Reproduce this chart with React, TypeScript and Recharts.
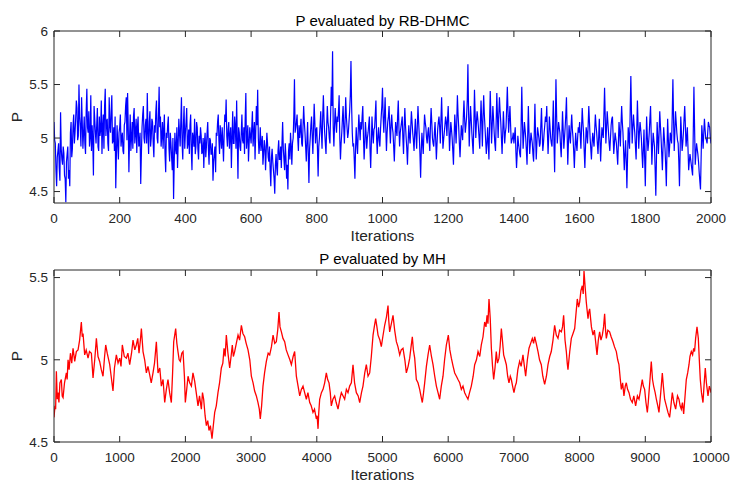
import React from "react"
import { LineChart, Line, XAxis, YAxis } from "recharts"

const WIDTH = 732
const HEIGHT = 482
const AXIS_COLOR = "#262626"
const FONT = '"Liberation Sans", Arial, Helvetica, sans-serif'

// P evaluated by RB-DHMC, read every 4 iterations from 0 to 2000
const RB_STEP = 4
const rbValues = [
  5.15, 4.95, 4.55, 4.88, 4.72, 5.24, 4.8, 4.92, 4.65, 4.4, 4.85, 4.62, 4.55, 5.15, 4.9, 5.22, 5.05, 5.35, 4.98, 5.5, 5.1, 5.38, 4.9, 5.2, 4.85,
  5.46, 5.05, 4.92, 5.4, 5.12, 4.65, 5.18, 4.95, 5.28, 4.88, 5.02, 5.35, 5.1, 4.9, 5.46, 5.15, 4.95, 5.38, 5.05, 5.4, 4.98, 4.88, 4.53, 5.12, 4.8,
  5.1, 4.92, 5.05, 4.85, 5.15, 5.38, 5.42, 4.68, 5.22, 5.0, 4.9, 5.28, 5.05, 4.86, 5.2, 4.95, 4.57, 5.1, 5.3, 4.95, 5.18, 5.42, 4.85, 5.25, 5.0,
  5.15, 4.82, 5.05, 5.35, 4.95, 5.48, 5.2, 5.02, 4.9, 5.22, 4.68, 5.0, 5.2, 4.78, 4.95, 4.7, 4.43, 5.05, 4.85, 4.72, 5.18, 4.92, 5.38, 4.8, 5.3,
  5.05, 5.28, 4.95, 4.85, 5.22, 4.7, 5.0, 5.18, 4.92, 5.1, 4.8, 4.95, 5.02, 4.88, 4.72, 5.05, 4.92, 5.15, 4.75, 4.98, 4.85, 4.6, 4.85, 4.68, 5.02,
  5.22, 4.85, 5.0, 5.1, 4.78, 5.22, 5.36, 4.92, 5.15, 5.02, 4.72, 5.25, 4.95, 5.1, 5.35, 4.62, 5.05, 4.88, 5.22, 4.95, 4.85, 5.42, 5.0, 4.78, 5.1,
  4.95, 5.25, 5.05, 4.8, 5.3, 5.45, 4.85, 5.1, 4.95, 4.75, 4.98, 4.7, 5.05, 4.82, 4.92, 4.55, 4.9, 4.7, 4.48, 4.85, 4.65, 4.98, 4.8, 4.72, 5.15,
  4.8, 4.95, 4.62, 4.52, 4.95, 5.05, 4.75, 5.0, 5.55, 5.1, 5.22, 4.88, 5.0, 5.18, 4.92, 5.3, 5.05, 4.78, 5.15, 4.58, 5.0, 5.2, 4.85, 5.32, 4.95,
  5.1, 4.64, 5.0, 5.25, 4.9, 5.4, 5.05, 4.85, 5.3, 5.1, 4.95, 5.48, 5.81, 4.92, 5.28, 5.05, 5.15, 5.4, 4.8, 5.05, 5.3, 4.95, 5.38, 5.1, 5.05,
  5.25, 5.72, 5.05, 4.95, 4.62, 5.1, 4.85, 5.22, 4.98, 5.08, 5.3, 4.8, 5.15, 4.9, 5.05, 5.2, 4.72, 5.2, 4.95, 5.1, 5.35, 4.85, 5.1, 4.92, 5.2,
  5.47, 5.05, 5.38, 4.88, 5.15, 5.3, 4.95, 5.22, 5.05, 4.78, 5.15, 5.02, 5.35, 4.92, 5.1, 5.2, 4.85, 5.28, 5.0, 4.75, 5.12, 4.95, 5.25, 5.05, 4.88,
  5.18, 4.9, 5.3, 5.02, 4.63, 5.05, 4.85, 5.22, 5.1, 4.95, 5.1, 4.88, 5.28, 5.0, 4.92, 5.15, 4.8, 5.08, 5.2, 4.95, 5.38, 4.9, 5.05, 5.2, 5.02,
  5.3, 4.88, 5.15, 5.0, 4.75, 5.22, 4.95, 5.4, 5.1, 4.82, 5.12, 4.98, 5.35, 5.05, 5.2, 5.69, 4.92, 5.3, 5.05, 4.85, 5.45, 5.0, 5.25, 5.1, 4.9,
  5.35, 4.92, 5.4, 5.1, 4.85, 5.1, 4.8, 5.44, 4.95, 5.3, 5.05, 4.88, 5.42, 5.0, 5.38, 5.15, 4.85, 5.25, 4.95, 5.1, 5.48, 5.05, 5.3, 4.95, 5.0,
  4.95, 5.1, 4.72, 5.02, 4.9, 4.82, 5.48, 4.9, 5.15, 5.0, 4.75, 5.3, 4.85, 5.05, 4.95, 4.78, 5.32, 4.8, 5.1, 5.0, 4.95, 5.28, 4.88, 5.05, 5.2,
  5.3, 4.85, 5.2, 5.0, 4.92, 5.35, 4.68, 5.55, 4.95, 5.15, 5.05, 4.82, 5.25, 4.9, 5.1, 5.38, 4.75, 5.12, 4.95, 5.22, 5.0, 4.72, 5.05, 4.88, 5.1,
  5.15, 4.9, 5.28, 5.05, 4.72, 5.1, 4.95, 5.3, 5.0, 4.8, 5.05, 4.92, 5.22, 5.05, 4.85, 5.18, 4.78, 5.1, 5.0, 5.47, 4.95, 5.25, 5.05, 4.88, 5.12,
  5.2, 4.85, 5.05, 4.95, 4.75, 5.15, 4.92, 5.3, 5.05, 4.7, 4.98, 4.53, 5.1, 4.9, 5.58, 4.95, 5.22, 5.05, 4.8, 5.35, 4.9, 5.15, 5.0, 4.72, 5.08,
  4.55, 5.2, 4.88, 5.05, 5.3, 4.75, 5.05, 4.92, 4.46, 5.15, 4.85, 5.25, 5.0, 4.7, 5.1, 4.9, 4.55, 5.18, 4.82, 5.05, 4.95, 5.55, 4.88, 5.25, 5.05,
  4.95, 4.55, 5.2, 4.88, 5.05, 5.3, 4.92, 5.1, 4.7, 4.85, 4.75, 4.65, 5.48, 4.75, 4.95, 4.85, 4.68, 4.52, 5.12, 4.9, 5.18, 5.0, 4.95, 5.15, 5.1,
  4.95,
]

// the in-between samples, at iterations 2, 6, 10, ... 1998
const rbValuesMid = [
  4.98, 4.7, 4.82, 4.95, 4.6, 4.9, 4.75, 4.86, 4.62, 4.78, 4.92, 4.7, 5.05, 4.82, 5.12, 4.95, 5.18, 5.28, 5.02, 5.2, 4.92, 5.15, 5.05, 4.95, 5.25,
  5.1, 5.25, 5.0, 4.88, 4.98, 5.3, 5.05, 5.12, 4.92, 5.2, 5.08, 4.85, 5.22, 5.3, 5.02, 5.18, 4.88, 5.12, 5.25, 4.95, 5.1, 5.2, 4.85, 4.95, 5.05,
  5.22, 5.0, 4.88, 5.12, 5.3, 4.98, 5.1, 5.0, 4.88, 5.15, 5.2, 4.95, 5.18, 5.1, 4.92, 5.05, 4.85, 5.22, 5.0, 5.12, 4.95, 5.05, 5.15, 4.92, 5.18,
  4.95, 5.12, 5.25, 5.0, 5.2, 5.1, 4.92, 5.15, 5.08, 4.85, 5.05, 5.12, 4.9, 5.05, 4.82, 5.0, 4.78, 4.9, 5.1, 4.95, 5.05, 5.15, 4.95, 5.12, 4.9,
  5.15, 4.9, 5.08, 5.12, 4.88, 5.05, 4.92, 4.85, 5.15, 4.9, 5.02, 5.1, 4.85, 5.0, 4.95, 4.82, 5.05, 4.9, 5.0, 4.85, 4.95, 4.78, 4.92, 5.05, 5.15,
  4.98, 5.12, 4.9, 4.95, 5.05, 5.15, 5.02, 5.08, 4.9, 5.1, 5.0, 4.95, 5.2, 4.9, 4.98, 5.1, 4.92, 5.05, 4.98, 5.1, 5.18, 4.9, 5.12, 4.95, 5.02,
  5.1, 4.92, 5.15, 5.05, 5.12, 5.0, 4.95, 4.88, 5.02, 4.85, 4.92, 4.88, 4.95, 4.78, 4.7, 4.82, 4.78, 4.62, 4.75, 4.72, 4.88, 4.8, 4.92, 4.95, 4.9,
  4.7, 4.82, 4.75, 4.88, 4.8, 4.92, 4.95, 5.2, 5.05, 5.15, 5.0, 5.12, 5.08, 4.95, 5.1, 5.15, 4.92, 4.98, 4.85, 4.9, 5.12, 5.02, 5.08, 5.15, 5.08,
  4.9, 4.92, 5.12, 5.05, 5.2, 5.18, 4.95, 5.1, 5.15, 5.0, 5.22, 5.3, 5.1, 5.12, 5.15, 5.2, 5.25, 5.0, 4.95, 5.18, 5.1, 5.15, 5.2, 5.0, 5.15,
  5.4, 5.3, 4.92, 4.8, 4.9, 4.95, 5.05, 5.1, 5.15, 5.2, 5.02, 4.95, 5.05, 5.0, 5.12, 4.9, 4.95, 5.05, 5.08, 5.22, 5.0, 5.02, 4.98, 5.08, 5.3,
  5.2, 5.22, 5.1, 5.05, 5.2, 5.1, 5.12, 5.1, 4.92, 4.98, 5.08, 5.2, 5.1, 5.05, 5.15, 5.0, 5.1, 5.12, 4.9, 4.95, 5.02, 5.1, 5.15, 4.98, 5.05,
  5.02, 5.12, 5.15, 4.85, 4.88, 4.95, 5.05, 5.15, 5.0, 5.05, 4.98, 5.12, 5.15, 4.95, 5.05, 4.98, 4.95, 5.15, 5.1, 5.18, 5.12, 4.98, 5.12, 5.15, 5.18,
  5.1, 5.02, 5.08, 4.88, 5.0, 5.1, 5.15, 5.22, 4.95, 4.98, 5.05, 5.2, 5.18, 5.12, 5.35, 5.25, 5.12, 5.18, 4.95, 5.12, 5.22, 5.15, 5.18, 5.0, 5.15,
  5.15, 5.2, 5.22, 4.98, 4.95, 4.95, 5.15, 5.2, 5.12, 5.18, 4.95, 5.15, 5.2, 5.22, 5.25, 5.0, 5.05, 5.1, 5.05, 5.28, 5.25, 5.18, 5.12, 4.98, 5.05,
  5.02, 4.88, 4.85, 4.95, 4.85, 5.12, 5.15, 5.02, 5.08, 4.88, 5.02, 5.05, 4.95, 5.0, 4.85, 5.05, 5.02, 4.95, 5.05, 4.92, 5.12, 5.05, 4.95, 5.12, 5.15,
  5.05, 5.02, 5.1, 4.95, 5.12, 4.95, 5.1, 5.22, 5.05, 5.1, 4.92, 5.02, 5.08, 5.0, 5.22, 5.05, 4.95, 5.02, 5.1, 5.08, 4.88, 4.9, 4.95, 5.0, 5.05,
  5.02, 5.1, 5.15, 4.88, 4.92, 5.05, 5.12, 5.15, 4.9, 4.95, 4.98, 5.08, 5.12, 4.95, 5.0, 4.98, 4.95, 5.05, 5.22, 5.2, 5.1, 5.15, 4.95, 5.0, 5.18,
  5.02, 4.95, 5.0, 4.85, 4.95, 5.05, 5.12, 5.15, 4.88, 4.85, 4.78, 4.82, 5.0, 5.25, 5.22, 5.1, 5.12, 4.92, 5.08, 5.12, 5.05, 5.08, 4.85, 4.9, 4.82,
  4.88, 5.02, 4.95, 5.18, 5.02, 4.92, 4.98, 4.7, 4.82, 5.0, 5.05, 5.12, 4.85, 4.92, 5.0, 4.75, 4.88, 5.0, 4.92, 5.0, 5.22, 5.18, 5.05, 5.15, 4.98,
  4.78, 4.88, 5.05, 4.95, 5.18, 5.12, 5.0, 4.9, 4.78, 4.8, 4.7, 5.05, 5.1, 4.85, 4.9, 4.78, 4.6, 4.82, 5.02, 5.05, 5.08, 4.98, 5.05, 5.12, 5.0,
]

// P evaluated by MH, [iteration, P]
const mhTrace: [number, number][] = [
  [0, 4.65], [15, 4.72], [25, 4.7], [36, 4.93], [50, 4.76], [61, 4.8], [75, 4.74], [90, 4.86], [112, 4.88], [125, 4.78],
  [138, 4.77], [160, 4.86], [188, 4.92], [200, 4.88], [214, 5.0], [230, 4.94], [250, 5.04], [270, 4.98], [290, 5.07], [315, 4.99],
  [340, 5.05], [366, 5.06], [390, 5.12], [416, 5.23], [430, 5.14], [442, 5.16], [467, 5.03], [490, 5.06], [518, 5.01], [540, 5.05],
  [569, 5.04], [594, 4.89], [620, 5.0], [645, 5.13], [670, 5.02], [695, 4.99], [720, 4.94], [746, 4.9], [770, 5.02], [787, 5.09],
  [810, 5.04], [848, 4.97], [870, 4.9], [898, 4.81], [920, 4.95], [949, 5.03], [975, 4.98], [1000, 5.01], [1020, 4.96], [1040, 5.09],
  [1070, 5.02], [1101, 5.01], [1125, 5.04], [1152, 4.97], [1180, 5.04], [1203, 5.12], [1230, 5.06], [1253, 5.09], [1275, 5.13], [1294, 5.04],
  [1315, 5.12], [1330, 5.19], [1355, 5.05], [1380, 5.0], [1406, 4.92], [1430, 4.96], [1456, 4.91], [1480, 4.86], [1507, 4.92], [1530, 4.98],
  [1558, 5.11], [1583, 4.92], [1610, 4.95], [1634, 4.84], [1660, 4.88], [1685, 4.74], [1710, 4.82], [1735, 4.88], [1760, 4.8], [1786, 4.74],
  [1805, 4.92], [1822, 5.11], [1852, 5.19], [1870, 5.1], [1887, 5.05], [1905, 5.0], [1923, 4.99], [1945, 5.04], [1964, 5.05], [1985, 4.9],
  [1999, 4.74], [2020, 4.82], [2040, 4.9], [2065, 4.86], [2091, 4.84], [2115, 4.92], [2141, 4.87], [2165, 4.8], [2192, 4.72], [2215, 4.78],
  [2243, 4.7], [2260, 4.8], [2278, 4.76], [2300, 4.66], [2319, 4.6], [2340, 4.63], [2359, 4.57], [2380, 4.6], [2405, 4.52], [2425, 4.6],
  [2446, 4.68], [2470, 4.72], [2496, 4.8], [2520, 4.86], [2547, 4.95], [2570, 4.98], [2588, 5.07], [2605, 5.02], [2623, 5.15], [2645, 5.05],
  [2674, 4.95], [2695, 5.02], [2714, 5.09], [2730, 5.02], [2750, 5.05], [2775, 5.1], [2801, 5.15], [2825, 5.12], [2852, 5.21], [2875, 5.16],
  [2902, 5.14], [2925, 5.1], [2953, 5.06], [2980, 5.0], [3004, 4.9], [3030, 4.86], [3054, 4.81], [3080, 4.78], [3105, 4.74], [3125, 4.7],
  [3140, 4.64], [3160, 4.72], [3181, 4.84], [3205, 4.92], [3232, 4.99], [3260, 5.04], [3283, 5.03], [3310, 5.08], [3334, 5.15], [3360, 5.1],
  [3384, 5.11], [3405, 5.18], [3425, 5.29], [3440, 5.2], [3461, 5.17], [3485, 5.13], [3511, 5.11], [3535, 5.06], [3562, 5.03], [3590, 5.0],
  [3613, 4.97], [3640, 5.02], [3663, 5.05], [3689, 4.9], [3715, 4.84], [3740, 4.78], [3765, 4.82], [3790, 4.84], [3815, 4.8], [3841, 4.76],
  [3865, 4.8], [3892, 4.74], [3915, 4.72], [3942, 4.68], [3965, 4.7], [3993, 4.64], [4005, 4.66], [4019, 4.58], [4030, 4.68], [4044, 4.76],
  [4070, 4.8], [4095, 4.82], [4120, 4.86], [4145, 4.92], [4165, 4.88], [4186, 4.86], [4205, 4.8], [4221, 4.72], [4245, 4.76], [4272, 4.78],
  [4295, 4.74], [4323, 4.7], [4350, 4.76], [4374, 4.8], [4400, 4.78], [4424, 4.76], [4450, 4.82], [4475, 4.8], [4500, 4.84], [4526, 4.86],
  [4551, 4.97], [4575, 4.86], [4602, 4.8], [4630, 4.78], [4653, 4.74], [4680, 4.8], [4703, 4.84], [4730, 4.92], [4754, 4.97], [4780, 4.9],
  [4805, 4.92], [4830, 5.02], [4856, 5.15], [4875, 5.2], [4896, 5.25], [4915, 5.2], [4932, 5.15], [4960, 5.12], [4982, 5.08], [5005, 5.14],
  [5033, 5.21], [5060, 5.26], [5084, 5.33], [5095, 5.24], [5109, 5.17], [5135, 5.22], [5160, 5.27], [5185, 5.18], [5211, 5.11], [5235, 5.08],
  [5262, 5.03], [5285, 5.06], [5312, 5.07], [5340, 5.0], [5363, 4.92], [5390, 4.96], [5414, 5.01], [5435, 5.08], [5454, 5.14], [5470, 5.06],
  [5490, 5.01], [5515, 4.88], [5540, 4.86], [5566, 4.82], [5585, 4.78], [5606, 4.74], [5625, 4.8], [5642, 4.86], [5668, 4.96], [5693, 5.03],
  [5718, 5.09], [5745, 5.02], [5769, 4.97], [5795, 4.9], [5820, 4.84], [5845, 4.8], [5870, 4.76], [5895, 4.84], [5921, 4.9], [5945, 5.0],
  [5972, 5.09], [6002, 5.15], [6025, 5.06], [6048, 5.01], [6075, 4.96], [6099, 4.92], [6125, 4.9], [6149, 4.88], [6175, 4.86], [6200, 4.82],
  [6225, 4.84], [6251, 4.8], [6275, 4.78], [6301, 4.76], [6325, 4.8], [6352, 4.84], [6380, 4.9], [6403, 4.97], [6430, 5.0], [6454, 5.05],
  [6480, 5.02], [6504, 5.09], [6530, 5.14], [6555, 5.23], [6575, 5.2], [6591, 5.27], [6605, 5.22], [6621, 5.37], [6640, 5.25], [6657, 5.07],
  [6675, 4.96], [6692, 4.88], [6712, 4.95], [6732, 5.05], [6750, 4.98], [6773, 5.01], [6790, 5.08], [6809, 5.19], [6825, 5.12], [6844, 5.03],
  [6865, 5.0], [6885, 4.97], [6905, 4.9], [6925, 4.86], [6945, 4.9], [6961, 4.88], [6980, 4.84], [7001, 4.8], [7020, 4.84], [7037, 4.86],
  [7060, 4.94], [7087, 4.99], [7110, 4.96], [7138, 5.03], [7160, 4.96], [7179, 4.9], [7205, 5.0], [7230, 5.07], [7255, 5.1], [7280, 5.13],
  [7300, 5.1], [7316, 5.14], [7340, 5.1], [7367, 5.05], [7390, 5.0], [7417, 4.97], [7440, 4.9], [7468, 4.85], [7495, 4.9], [7519, 4.97],
  [7545, 5.02], [7569, 5.05], [7595, 5.12], [7620, 5.21], [7645, 5.15], [7671, 5.13], [7695, 5.18], [7722, 5.17], [7740, 5.2], [7757, 5.27],
  [7778, 5.12], [7798, 5.05], [7812, 4.98], [7823, 4.94], [7850, 5.05], [7874, 5.13], [7900, 5.16], [7925, 5.19], [7945, 5.28], [7965, 5.37],
  [7985, 5.32], [8001, 5.35], [8020, 5.42], [8041, 5.45], [8055, 5.4], [8067, 5.54], [8085, 5.44], [8102, 5.35], [8115, 5.3], [8128, 5.25],
  [8140, 5.29], [8153, 5.31], [8180, 5.2], [8204, 5.15], [8225, 5.18], [8244, 5.11], [8265, 5.03], [8285, 5.12], [8305, 5.17], [8325, 5.12],
  [8346, 5.15], [8365, 5.2], [8381, 5.28], [8395, 5.18], [8407, 5.13], [8430, 5.18], [8457, 5.17], [8480, 5.14], [8508, 5.11], [8530, 5.08],
  [8559, 5.05], [8580, 5.0], [8599, 4.97], [8620, 4.88], [8635, 4.82], [8655, 4.86], [8675, 4.78], [8695, 4.84], [8711, 4.86], [8730, 4.82],
  [8752, 4.8], [8775, 4.76], [8802, 4.74], [8825, 4.78], [8853, 4.72], [8880, 4.78], [8904, 4.76], [8930, 4.82], [8954, 4.88], [8970, 4.84],
  [8990, 4.82], [9010, 4.74], [9031, 4.68], [9045, 4.74], [9056, 4.8], [9075, 4.9], [9091, 4.99], [9110, 4.88], [9127, 4.84], [9150, 4.8],
  [9168, 4.76], [9190, 4.72], [9208, 4.68], [9235, 4.8], [9259, 4.92], [9275, 4.84], [9294, 4.76], [9320, 4.72], [9345, 4.68], [9370, 4.65],
  [9390, 4.72], [9411, 4.8], [9435, 4.74], [9462, 4.7], [9490, 4.78], [9512, 4.76], [9530, 4.72], [9548, 4.7], [9565, 4.74], [9584, 4.67],
  [9605, 4.78], [9624, 4.88], [9645, 4.92], [9665, 4.97], [9680, 5.02], [9700, 5.05], [9720, 5.03], [9736, 5.07], [9750, 5.05], [9766, 5.13],
  [9787, 5.2], [9807, 5.13], [9822, 5.0], [9837, 4.88], [9855, 4.8], [9878, 4.74], [9895, 4.85], [9913, 4.95], [9930, 4.86], [9954, 4.78],
  [9975, 4.84], [9990, 4.82], [10000, 4.8],
]

const rbTicksX = [0, 200, 400, 600, 800, 1000, 1200, 1400, 1600, 1800, 2000]
const rbTicksY = [4.5, 5, 5.5, 6]
const mhTicksX = [0, 1000, 2000, 3000, 4000, 5000, 6000, 7000, 8000, 9000, 10000]
const mhTicksY = [4.5, 5, 5.5]

const rbData = [
  ...rbValues.map((p, i) => ({ iter: i * RB_STEP, p })),
  ...rbValuesMid.map((p, i) => ({ iter: RB_STEP / 2 + i * RB_STEP, p })),
].sort((a, b) => a.iter - b.iter)
const mhData = mhTrace.map(([iter, p]) => ({ iter, p }))

const blank = () => ""
const tickStyle = { fill: AXIS_COLOR, fontSize: 13.5, fontFamily: FONT }

type PanelProps = {
  data: { iter: number; p: number }[]
  color: string
  lineWidth: number
  top: number
  height: number
  marginTop: number
  xAxisHeight: number
  xDomain: [number, number]
  xTicks: number[]
  yDomain: [number, number]
  yTicks: number[]
}

function TracePanel(props: PanelProps) {
  const { data, color, lineWidth, top, height, marginTop, xAxisHeight, xDomain, xTicks, yDomain, yTicks } = props
  return (
    <div style={{ position: "absolute", left: 0, top }}>
      <LineChart width={WIDTH} height={height} data={data} margin={{ top: marginTop, right: 20, bottom: 0, left: 0 }}>
        <XAxis
          dataKey="iter"
          type="number"
          domain={xDomain}
          ticks={xTicks}
          interval={0}
          allowDataOverflow
          height={xAxisHeight}
          tickSize={-6}
          tickMargin={16.5}
          stroke={AXIS_COLOR}
          tick={tickStyle}
        />
        {/* box: top edge with inward ticks, no labels */}
        <XAxis
          xAxisId="top"
          dataKey="iter"
          orientation="top"
          type="number"
          domain={xDomain}
          ticks={xTicks}
          interval={0}
          allowDataOverflow
          height={1}
          tickSize={-6}
          tickFormatter={blank}
          stroke={AXIS_COLOR}
        />
        <YAxis
          type="number"
          domain={yDomain}
          ticks={yTicks}
          interval={0}
          allowDataOverflow
          width={54}
          tickSize={-6}
          tickMargin={12}
          stroke={AXIS_COLOR}
          tick={tickStyle}
        />
        <YAxis
          yAxisId="right"
          orientation="right"
          type="number"
          domain={yDomain}
          ticks={yTicks}
          interval={0}
          allowDataOverflow
          width={1}
          tickSize={-6}
          tickFormatter={blank}
          stroke={AXIS_COLOR}
        />
        <Line type="linear" dataKey="p" stroke={color} strokeWidth={lineWidth} dot={false} activeDot={false} isAnimationActive={false} />
        <Line
          xAxisId="top"
          yAxisId="right"
          type="linear"
          dataKey="p"
          stroke="none"
          dot={false}
          activeDot={false}
          legendType="none"
          isAnimationActive={false}
        />
      </LineChart>
    </div>
  )
}

export default function App() {
  const plotCenterX = (54 + 711) / 2
  return (
    <div style={{ position: "absolute", left: 0, top: 0, width: WIDTH, height: HEIGHT, background: "#fff", fontFamily: FONT }}>
      <TracePanel
        data={rbData}
        color="#0000ff"
        lineWidth={1.2}
        top={0}
        height={240}
        marginTop={30}
        xAxisHeight={37}
        xDomain={[0, 2000]}
        xTicks={rbTicksX}
        yDomain={[4.393, 6]}
        yTicks={rbTicksY}
      />
      <TracePanel
        data={mhData}
        color="#ff0000"
        lineWidth={1.3}
        top={240}
        height={242}
        marginTop={29}
        xAxisHeight={40}
        xDomain={[0, 10000]}
        xTicks={mhTicksX}
        yDomain={[4.5, 5.546]}
        yTicks={mhTicksY}
      />
      <svg width={WIDTH} height={HEIGHT} style={{ position: "absolute", left: 0, top: 0, pointerEvents: "none" }}>
        <g fill={AXIS_COLOR} fontFamily={FONT} textAnchor="middle">
          <text x={plotCenterX} y={26} fontSize={15} fill="#000">P evaluated by RB-DHMC</text>
          <text x={plotCenterX} y={240.5} fontSize={15.5}>Iterations</text>
          <text x={21.5} y={117} fontSize={15.5} transform="rotate(-90 21.5 117)">P</text>
          <text x={plotCenterX} y={264} fontSize={15} fill="#000">P evaluated by MH</text>
          <text x={plotCenterX} y={480} fontSize={15.5}>Iterations</text>
          <text x={21.5} y={356} fontSize={15.5} transform="rotate(-90 21.5 356)">P</text>
        </g>
      </svg>
    </div>
  )
}
